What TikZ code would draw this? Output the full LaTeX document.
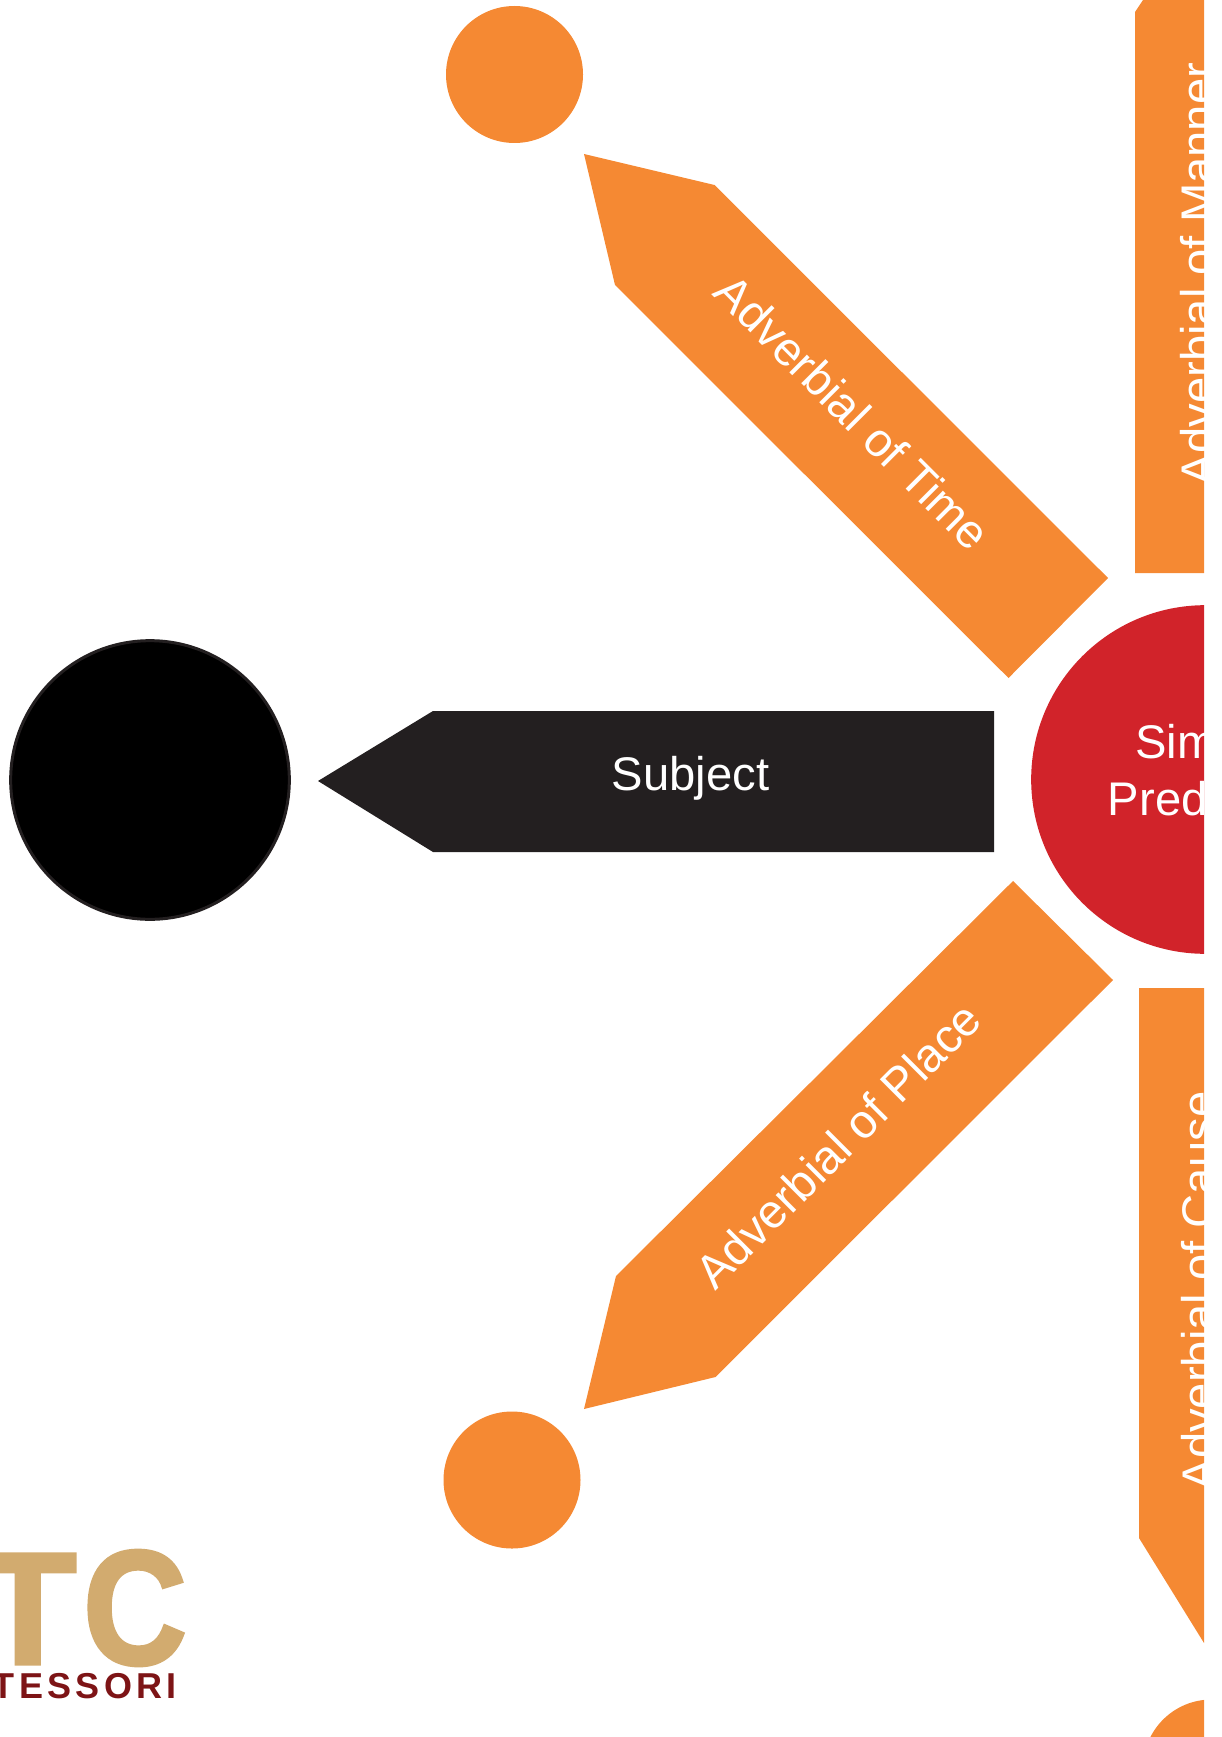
\documentclass[tikz,border=0pt]{standalone}
\usepackage{fontspec}
\setmainfont{Liberation Sans}
\definecolor{adverbOrange}{RGB}{245,137,51}
\definecolor{predRed}{RGB}{209,35,42}
\definecolor{subjDark}{RGB}{35,31,32}
\definecolor{logoTan}{RGB}{210,171,111}
\definecolor{logoRed}{RGB}{125,20,22}
\tikzset{
  armlabel/.style={text=white,inner sep=0pt,font=\fontsize{35.4}{43}\selectfont},
  orangedot/.style={circle,fill=adverbOrange,minimum size=102.75pt,inner sep=0pt},
  logoletter/.style={anchor=base east,inner sep=0pt,text=logoTan},
}
\begin{document}
\begin{tikzpicture}[x=0.75pt,y=0.75pt,yscale=-1,xscale=1]
\useasboundingbox (0,0) rectangle (1221,1737);
\begin{scope}
\clip (0,0) rectangle (1204,1737);

%Shape: Time arm
\fill [adverbOrange] (584,154) -- (714.5,185) -- (1108,578) -- (1008.5,678) -- (615,285) -- cycle ;
%Shape: Place arm
\fill [adverbOrange] (1013,881) -- (1113,980) -- (715.5,1377) -- (584,1409) -- (616,1276) -- cycle ;
%Shape: Manner arm
\fill [adverbOrange] (1135,573) -- (1135,12) -- (1143,0) -- (1204,0) -- (1204,573) -- cycle ;
%Shape: Cause arm
\fill [adverbOrange] (1139,988) -- (1139,1538) -- (1204,1643) -- (1204,988) -- cycle ;
%Shape: Subject arm
\fill [subjDark] (318,781) -- (433,711) -- (994,711) -- (994,852) -- (433,852) -- cycle ;

% Circles
\node (timeDot) [orangedot] at (514.5,74.5) {};
\node (placeDot) [orangedot] at (512,1480) {};
\node (causeDot) [orangedot] at (1211.5,1768) {};
\node (subjDot) [circle,fill=black,draw=subjDark,line width=2.25pt,minimum size=209pt,inner sep=0pt] at (150,780) {};
\node (predDot) [circle,fill=predRed,minimum size=261.5pt,inner sep=0pt] at (1205.5,779.5) {};

% Text Node
\node (subjLabel) [armlabel] at (690.5,778.5) {Subject};
% Text Node
\node (timeLabel) [armlabel,rotate=-45] at (853,412) {Adverbial of Time};
% Text Node
\node (placeLabel) [armlabel,rotate=45] at (838,1145) {Adverbial of Place};
% Text Node
\node (mannerLabel) [armlabel,rotate=90,anchor=base] at (1214,274) {Adverbial of Manner};
% Text Node
\node (causeLabel) [armlabel,rotate=90,anchor=base] at (1215,1291) {Adverbial of Cause};
% Text Node
\node (predLabel) [armlabel,align=center] at (1207.5,770) {Simple\\Predicate};
\end{scope}

% Text Node
\node (logoT) [logoletter,font=\fontsize{120}{120}\selectfont\bfseries\addfontfeatures{FakeBold=2}] at (77,1664) {T};
% Text Node
\node (logoC) [logoletter,font=\fontsize{122}{122}\selectfont\bfseries\addfontfeatures{FakeBold=2.2,FakeStretch=0.88}] at (187,1664) {C};
% Text Node
\node (logoWord) [anchor=base east,inner sep=0pt,text=logoRed,font=\fontsize{27}{27}\selectfont\bfseries\addfontfeatures{LetterSpace=12}] at (177,1698) {TESSORI};
\end{tikzpicture}
\end{document}
